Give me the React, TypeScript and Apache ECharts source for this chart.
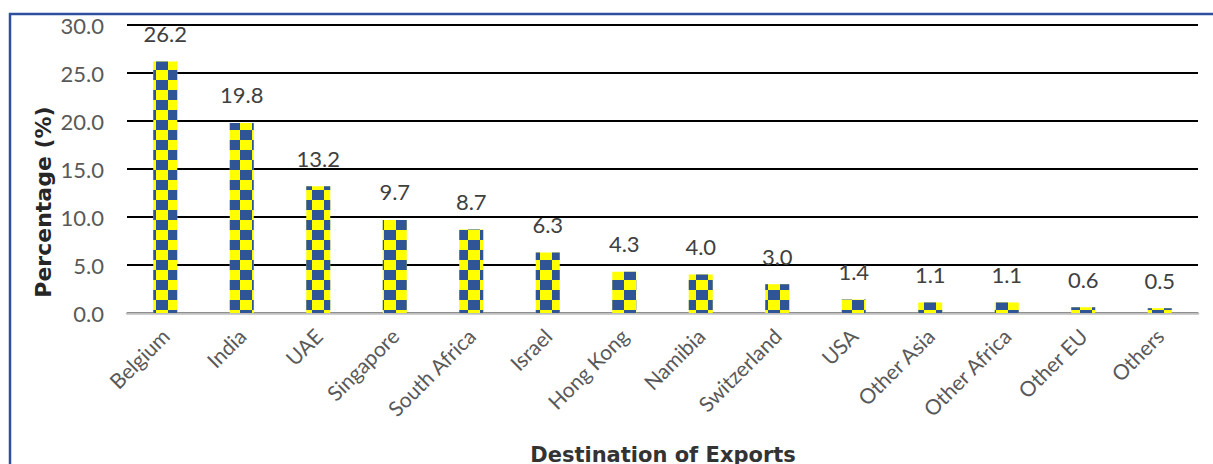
import React, { useEffect, useRef } from "react";
import * as echarts from "echarts";

const categories = [
  "Belgium", "India", "UAE", "Singapore", "South Africa", "Israel", "Hong Kong",
  "Namibia", "Switzerland", "USA", "Other Asia", "Other Africa", "Other EU", "Others",
];
const shares = [26.2, 19.8, 13.2, 9.7, 8.7, 6.3, 4.3, 4.0, 3.0, 1.4, 1.1, 1.1, 0.6, 0.5];
const yAxisTitle = "Percentage (%)";
const xAxisTitle = "Destination of Exports";

const BLUE = "#2F5597";
const YELLOW = "#FFFF00";
const FONT = "Lato, 'Open Sans', sans-serif";
const TITLE_FONT = "'DejaVu Sans', sans-serif";

export default function App() {
  const ref = useRef<HTMLDivElement>(null);
  useEffect(() => {
    if (!ref.current) return;
    const chart = echarts.init(ref.current, undefined, { renderer: "svg" });
    chart.setOption({
      animation: false,
      backgroundColor: "#ffffff",
      grid: { left: 127, right: 15, top: 25, bottom: 151, containLabel: false },
      graphic: [
        {
          type: "rect",
          shape: { x: 10, y: 14, width: 1300, height: 600 },
          style: { fill: "none", stroke: "#2E4F9E", lineWidth: 2.5 },
          z: 0,
        },
        {
          type: "text",
          x: 43,
          y: 202,
          rotation: Math.PI / 2,
          style: {
            text: yAxisTitle,
            fill: "#262626",
            font: `bold 22px ${TITLE_FONT}`,
            align: "center",
            verticalAlign: "middle",
          },
        },
        {
          type: "text",
          x: 663,
          y: 444,
          style: {
            text: xAxisTitle,
            fill: "#333333",
            font: `bold 21px ${TITLE_FONT}`,
            align: "center",
            verticalAlign: "top",
          },
        },
      ],
      xAxis: {
        type: "category",
        data: categories,
        axisLine: { lineStyle: { color: "#BFBFBF", width: 2.5 } },
        axisTick: { show: false },
        axisLabel: {
          rotate: 45,
          interval: 0,
          margin: 19,
          color: "#595959",
          fontFamily: FONT,
          fontSize: 21,
        },
      },
      yAxis: {
        type: "value",
        min: 0,
        max: 30,
        interval: 5,
        axisLine: { show: false },
        axisTick: { show: false },
        splitLine: { lineStyle: { color: "#000000", width: 2 } },
        axisLabel: {
          margin: 23,
          color: "#595959",
          fontFamily: FONT,
          fontSize: 22,
          formatter: (v: number) => v.toFixed(1),
        },
      },
      series: [
        {
          type: "bar",
          data: shares,
          barWidth: 24,
          itemStyle: {
            color: YELLOW,
            decal: {
              symbol: "rect",
              symbolSize: 1,
              symbolKeepAspect: false,
              color: BLUE,
              dashArrayX: [[12, 12], [0, 12, 12, 0]],
              dashArrayY: [10, 0],
              rotation: 0,
            },
          },
          label: {
            show: true,
            position: "top",
            distance: 17,
            color: "#404040",
            fontFamily: FONT,
            fontSize: 22,
            formatter: (p: any) => p.value.toFixed(1),
          },
          z: 3,
        },
      ],
    });
    return () => chart.dispose();
  }, []);
  return (
    <div
      ref={ref}
      style={{ position: "fixed", left: 0, top: 0, width: 1213, height: 464 }}
    />
  );
}
